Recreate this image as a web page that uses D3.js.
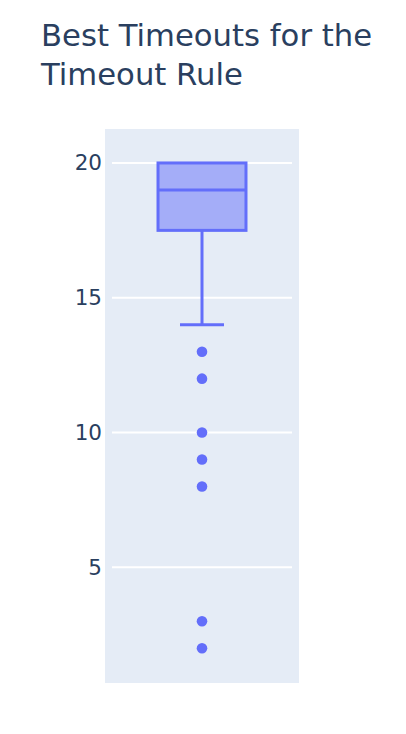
<!DOCTYPE html>
<html><head><meta charset="utf-8">
<script src="https://cdn.jsdelivr.net/npm/d3@7"></script>
<style>body{margin:0;background:#fff}svg{display:block}</style>
</head><body>
<script>
const titleLines = ["Best Timeouts for the", "Timeout Rule"];
const yTicks = [5, 10, 15, 20];
const boxStats = [{q1: 17.5, median: 19, q3: 20, lowerFence: 14, upperFence: 20}];
const outliers = [13, 12, 10, 9, 8, 3, 2];

const W = 406, H = 734;
const svg = d3.select("body").append("svg").attr("width", W).attr("height", H);
const font = "'DejaVu Sans', Verdana, sans-serif";
const txt = "#2a3f5f", col = "#636efa";

const pl = 105, pr = 299, pt = 129, pb = 683;
svg.append("rect").attr("x", pl).attr("y", pt).attr("width", pr - pl).attr("height", pb - pt).attr("fill", "#E5ECF6");

const y = d3.scaleLinear().domain([0.71, 21.26]).range([pb, pt]);
const x = d3.scaleBand().domain(["a"]).range([pl + 7, pr - 7]).paddingInner(0).paddingOuter(0.523);

const grid = svg.append("g");
grid.selectAll("line").data(yTicks).join("line")
  .attr("x1", pl + 7).attr("x2", pr - 7)
  .attr("y1", d => y(d)).attr("y2", d => y(d))
  .attr("stroke", "#fff").attr("stroke-width", 2);

const axis = svg.append("g").attr("transform", `translate(${pl - 3},0)`)
  .call(d3.axisLeft(y).tickValues(yTicks).tickSize(0).tickPadding(0));
axis.select(".domain").remove();
axis.selectAll("text").attr("font-family", font).attr("font-size", 21.5).attr("fill", txt);

const cx = x("a") + x.bandwidth() / 2;
const bw = x.bandwidth();
const g = svg.append("g");
const sw = 3;
boxStats.forEach(s => {
  g.append("line").attr("x1", cx).attr("x2", cx).attr("y1", y(s.q1)).attr("y2", y(s.lowerFence)).attr("stroke", col).attr("stroke-width", sw);
  g.append("line").attr("x1", cx - bw / 4).attr("x2", cx + bw / 4).attr("y1", y(s.lowerFence)).attr("y2", y(s.lowerFence)).attr("stroke", col).attr("stroke-width", sw);
  g.append("line").attr("x1", cx).attr("x2", cx).attr("y1", y(s.q3)).attr("y2", y(s.upperFence)).attr("stroke", col).attr("stroke-width", sw);
  g.append("rect").attr("x", cx - bw / 2).attr("y", y(s.q3)).attr("width", bw).attr("height", y(s.q1) - y(s.q3))
    .attr("fill", "rgba(99,110,250,0.5)").attr("stroke", col).attr("stroke-width", sw);
  g.append("line").attr("x1", cx - bw / 2).attr("x2", cx + bw / 2).attr("y1", y(s.median)).attr("y2", y(s.median)).attr("stroke", col).attr("stroke-width", sw);
});
g.selectAll("circle").data(outliers).join("circle")
  .attr("cx", cx).attr("cy", d => y(d)).attr("r", 5.3).attr("fill", col);

const t = svg.append("text").attr("x", 41).attr("y", 46).attr("font-family", font).attr("font-size", 30.7).attr("fill", txt);
titleLines.forEach((l, i) => t.append("tspan").attr("x", 41).attr("dy", i ? 39 : 0).text(l));
</script>
</body></html>
